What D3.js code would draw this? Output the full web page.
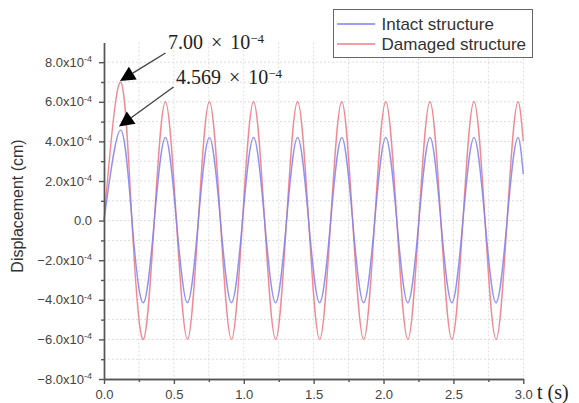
<!DOCTYPE html>
<html>
<head>
<meta charset="utf-8">
<script src="https://cdn.jsdelivr.net/npm/d3@7"></script>
<style>
  body { margin: 0; background: #fff; }
  svg { display: block; font-family: "Liberation Sans", Arial, sans-serif; }
</style>
</head>
<body>
<div id="chart"></div>
<script>
// values are in units of 1e-4 cm (peaks, troughs, zero crossings)
var times = [0, 0.119, 0.200, 0.281, 0.360, 0.439, 0.518, 0.597, 0.675, 0.754,
             0.833, 0.912, 0.991, 1.070, 1.149, 1.228, 1.306, 1.385, 1.464, 1.543,
             1.622, 1.701, 1.779, 1.858, 1.937, 2.016, 2.095, 2.174, 2.253, 2.332,
             2.410, 2.489, 2.568, 2.647, 2.726, 2.805, 2.884, 2.963, 3.000];
var intact = [0, 4.569, 0, -4.15, 0, 4.2, 0, -4.15, 0, 4.2,
              0, -4.15, 0, 4.2, 0, -4.15, 0, 4.2, 0, -4.15,
              0, 4.2, 0, -4.15, 0, 4.2, 0, -4.15, 0, 4.2,
              0, -4.15, 0, 4.2, 0, -4.15, 0, 4.2, 2.35];
var damaged = [0, 7.0, 0, -6.0, 0, 6.0, 0, -6.0, 0, 6.0,
               0, -6.0, 0, 6.0, 0, -6.0, 0, 6.0, 0, -6.0,
               0, 6.0, 0, -6.0, 0, 6.0, 0, -6.0, 0, 6.0,
               0, -6.0, 0, 6.0, 0, -6.0, 0, 6.0, 4.0];

var xMajor = [0, 0.5, 1.0, 1.5, 2.0, 2.5, 3.0];
var xMinor = [0.25, 0.75, 1.25, 1.75, 2.25, 2.75];
var yMajor = [-8, -6, -4, -2, 0, 2, 4, 6, 8];
var yMinor = [-7, -5, -3, -1, 1, 3, 5, 7];
var seriesNames = ["Intact structure", "Damaged structure"];
var peakLabels = ["7.00", "4.569"];

var W = 579, H = 403;
var x = d3.scaleLinear().domain([0, 3]).range([104, 523.3]);
var y = d3.scaleLinear().domain([-8, 9]).range([379, 42.4]);

var svg = d3.select("#chart").append("svg")
    .attr("width", W).attr("height", H);

// grid
var grid = svg.append("g").attr("stroke", "#dcdcdc").attr("stroke-dasharray", "2,2").attr("stroke-width", 1);
grid.selectAll("line.h").data(yMajor.concat(yMinor).filter(function(d) { return d > -8; }))
  .enter().append("line")
    .attr("x1", x(0)).attr("x2", x(3))
    .attr("y1", function(d) { return y(d); }).attr("y2", function(d) { return y(d); });
grid.selectAll("line.v").data(xMajor.concat(xMinor).filter(function(d) { return d > 0; }))
  .enter().append("line")
    .attr("y1", y(9)).attr("y2", y(-8))
    .attr("x1", function(d) { return x(d); }).attr("x2", function(d) { return x(d); });

// curves: natural spline up to the last zero crossing, monotone for the short tail
function pts(vals) {
  return vals.map(function(v, i) { return {t: times[i], v: v}; });
}
var natural = d3.line().x(function(d) { return x(d.t); }).y(function(d) { return y(d.v); })
    .curve(d3.curveNatural);
var tail = d3.line().x(function(d) { return x(d.t); }).y(function(d) { return y(d.v); })
    .curve(d3.curveMonotoneX);
var lastZero = times.length - 3;

var colors = ["#7f7ff0", "#f07c86"];
[[damaged, 1, 0.9], [intact, 0, 0.85]].forEach(function(s) {
  var p = pts(s[0]);
  var g = svg.append("g").attr("fill", "none").attr("stroke", colors[s[1]])
      .attr("stroke-width", 1.4).attr("stroke-opacity", s[2]);
  g.append("path").attr("d", natural(p.slice(0, lastZero + 1)));
  g.append("path").attr("d", tail(p.slice(lastZero)));
});

// axes
function styleAxis(g) {
  g.selectAll("path, line").attr("stroke", "#555").attr("stroke-width", 1.4);
  g.selectAll("text").attr("fill", "#444").style("font-size", "13px");
}

svg.append("g").attr("transform", "translate(0," + y(-8) + ")")
    .call(d3.axisBottom(x).tickValues(xMajor).tickSize(5).tickSizeOuter(0).tickPadding(6)
      .tickFormat(d3.format(".1f")))
    .call(styleAxis);
svg.append("g").attr("transform", "translate(0," + y(-8) + ")")
    .call(d3.axisBottom(x).tickValues(xMinor).tickSize(3).tickSizeOuter(0).tickFormat(""))
    .call(styleAxis);

var yAxis = svg.append("g").attr("transform", "translate(" + x(0) + ",0)")
    .call(d3.axisLeft(y).tickValues(yMajor).tickSize(5).tickSizeOuter(0).tickPadding(7)
      .tickFormat(function(d) { return d === 0 ? "0.0" : d3.format(".1f")(d) + "x10"; }))
    .call(styleAxis);
svg.append("g").attr("transform", "translate(" + x(0) + ",0)")
    .call(d3.axisLeft(y).tickValues(yMinor).tickSize(3).tickSizeOuter(0).tickFormat(""))
    .call(styleAxis);

// superscript exponent on y tick labels
yAxis.selectAll(".tick text").each(function(d) {
  if (d === 0) return;
  d3.select(this).append("tspan")
    .attr("dy", "-0.55em").style("font-size", "9px").text("-4");
});

// axis titles
svg.append("text")
    .attr("transform", "translate(23," + 206 + ") rotate(-90)")
    .attr("text-anchor", "middle")
    .attr("fill", "#333")
    .style("font-size", "16px")
    .text("Displacement (cm)");

svg.append("text")
    .attr("x", 537).attr("y", 399)
    .attr("fill", "#222")
    .style("font-family", "'Liberation Serif', 'DejaVu Serif', serif")
    .style("font-size", "20px")
    .text("t (s)");

// legend
var legend = svg.append("g");
legend.append("rect")
    .attr("x", 333.5).attr("y", 9.5).attr("width", 199).attr("height", 48)
    .attr("fill", "#fff").attr("stroke", "#666").attr("stroke-width", 1);
seriesNames.forEach(function(name, i) {
  var ly = 24 + i * 20;
  legend.append("line")
      .attr("x1", 337).attr("x2", 375).attr("y1", ly).attr("y2", ly)
      .attr("stroke", colors[i]).attr("stroke-width", 1.4);
  legend.append("text")
      .attr("x", 381.5).attr("y", ly + 6)
      .attr("fill", "#333").style("font-size", "17px")
      .text(name);
});

// peak annotations with arrows
var notes = [
  {label: peakLabels[0], tx: 168, ty: 49, x1: 165.5, y1: 53, tip: [120, 81]},
  {label: peakLabels[1], tx: 176, ty: 84, x1: 173.5, y1: 87, tip: [119, 126.5]}
];
notes.forEach(function(n) {
  var dx = n.x1 - n.tip[0], dy = n.y1 - n.tip[1];
  var len = Math.sqrt(dx * dx + dy * dy);
  var ux = dx / len, uy = dy / len;
  var hl = 15, hw = 7.5;
  var bx = n.tip[0] + ux * hl, by = n.tip[1] + uy * hl;
  svg.append("line")
      .attr("x1", n.x1).attr("y1", n.y1).attr("x2", bx).attr("y2", by)
      .attr("stroke", "#444").attr("stroke-width", 1.4);
  svg.append("path")
      .attr("d", "M" + n.tip[0] + "," + n.tip[1] +
                 "L" + (bx - uy * hw) + "," + (by + ux * hw) +
                 "L" + (bx + uy * hw) + "," + (by - ux * hw) + "Z")
      .attr("fill", "#000");
  var t = svg.append("text")
      .attr("x", n.tx).attr("y", n.ty)
      .attr("fill", "#222")
      .style("font-family", "'Liberation Serif', 'DejaVu Serif', serif")
      .style("font-size", "20px")
      .attr("word-spacing", "3px")
      .text(n.label + " \u00d7 10");
  t.append("tspan").attr("dy", "-0.45em").style("font-size", "13px").text("\u22124");
});
</script>
</body>
</html>
